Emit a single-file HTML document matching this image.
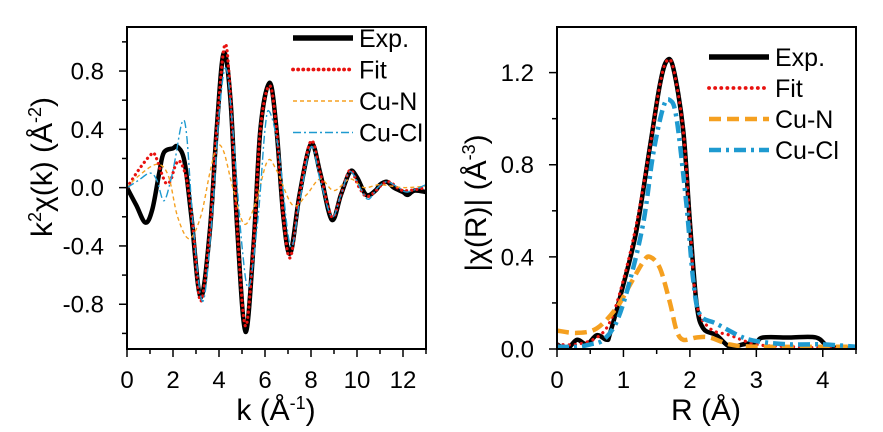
<!DOCTYPE html>
<html><head><meta charset="utf-8"><style>
body{margin:0;background:#fff}
svg{display:block;font-family:"Liberation Sans",Arial,sans-serif}
</style></head><body>
<svg id="c" width="883" height="432"></svg>
<script>
// ---- Left panel data (k-space) ----
const kExpK=[0,0.4,0.8,1.1,1.4,1.6,2.0,2.2,2.5,2.8,3.2,3.6,3.9,4.2,4.5,4.8,5.15,5.5,5.8,6.2,6.5,6.8,7.1,7.5,8.0,8.4,8.9,9.3,9.7,10.0,10.4,10.8,11.0,11.3,11.6,12.0,12.2,12.5,13];
const kExpY=[0,-0.12,-0.24,-0.15,0.1,0.24,0.27,0.28,0.18,-0.2,-0.75,-0.3,0.4,0.92,0.6,-0.3,-0.99,-0.4,0.4,0.72,0.4,-0.2,-0.45,-0.05,0.3,0.1,-0.22,-0.05,0.11,0.07,-0.05,-0.02,0.02,0.04,0,-0.03,-0.05,-0.02,-0.03];
const kFitK=[0,0.5,1.0,1.2,1.5,1.7,1.9,2.1,2.3,2.6,2.85,3.2,3.6,3.9,4.25,4.5,4.8,5.15,5.5,5.8,6.2,6.5,6.8,7.1,7.5,8.0,8.4,8.9,9.3,9.7,10.1,10.5,11.3,12.0,13];
const kFitY=[0,0.12,0.22,0.23,0.1,0.03,0.05,0.15,0.18,0.05,-0.25,-0.78,-0.3,0.4,0.98,0.62,-0.3,-0.95,-0.4,0.4,0.7,0.4,-0.2,-0.48,-0.05,0.32,0.1,-0.2,-0.05,0.12,0.0,-0.06,0.04,-0.02,0];
const kNK=[0,0.5,1.3,1.8,2.2,2.7,3.2,3.6,3.9,4.2,4.6,5.1,5.6,6.1,6.5,7.2,7.8,8.4,9.0,9.7,10.3,11,12,13];
const kNY=[0,0.08,0.16,0.08,-0.2,-0.35,-0.2,0.1,0.28,0.25,0,-0.25,-0.1,0.18,0.12,-0.12,-0.05,0.06,-0.02,0.06,0,0.02,0,0.01];
const kClK=[0,0.5,1.0,1.3,1.6,1.9,2.1,2.4,2.6,2.9,3.3,3.7,4.0,4.3,4.6,5.0,5.3,5.7,6.0,6.2,6.6,7.1,7.5,8.0,8.4,8.9,9.3,9.7,10.2,10.5,10.9,11.3,11.8,12.2,13];
const kClY=[0,0.05,0.1,0.05,-0.09,0.05,0.2,0.45,0.35,-0.3,-0.78,-0.2,0.5,0.82,0.4,-0.4,-0.68,-0.2,0.4,0.52,0.25,-0.4,-0.1,0.28,0.05,-0.2,-0.05,0.11,-0.02,-0.08,0,0.04,0,-0.03,0.02];
const kXTicks=[0,2,4,6,8,10,12];
const kYTicks=[-0.8,-0.4,0.0,0.4,0.8];
// ---- Right panel data (R-space) ----
const rExpR=[0,0.15,0.3,0.45,0.6,0.75,0.8,1.0,1.2,1.4,1.55,1.65,1.75,1.9,2.0,2.1,2.2,2.4,2.6,2.8,3.0,3.1,3.5,3.9,4.1,4.5];
const rExpY=[0.02,0,0.04,0.02,0.06,0.04,0.07,0.28,0.52,0.88,1.15,1.25,1.22,0.95,0.55,0.2,0.09,0.06,0.01,0.02,0.03,0.05,0.05,0.05,0.01,0];
const rFitR=[0,0.3,0.6,0.8,1.0,1.2,1.4,1.55,1.65,1.75,1.9,2.0,2.1,2.3,2.6,3.0,3.5,4.5];
const rFitY=[0.02,0.02,0.05,0.12,0.3,0.55,0.88,1.15,1.25,1.22,0.95,0.55,0.2,0.09,0.06,0.02,0.01,0];
const rNR=[0,0.3,0.6,0.9,1.1,1.3,1.4,1.55,1.7,1.8,1.9,2.1,2.3,2.6,3.0,4.5];
const rNY=[0.08,0.07,0.09,0.18,0.28,0.38,0.40,0.35,0.2,0.08,0.04,0.05,0.05,0.02,0.01,0.01];
const rClR=[0,0.3,0.5,0.7,0.9,1.1,1.3,1.45,1.6,1.7,1.8,1.95,2.05,2.15,2.4,2.8,3.1,3.5,4.0,4.5];
const rClY=[0.01,0.01,0.02,0.04,0.12,0.3,0.55,0.85,1.05,1.08,1.0,0.62,0.3,0.15,0.11,0.05,0.03,0.02,0.02,0.01];
const rXTicks=[0,1,2,3,4];
const rYTicks=[0.0,0.4,0.8,1.2];

const NS='http://www.w3.org/2000/svg';
const svg=document.getElementById('c');
function mk(tag,attrs,parent){const e=document.createElementNS(NS,tag);for(const k in attrs)e.setAttribute(k,attrs[k]);(parent||svg).appendChild(e);return e;}
function smooth(pts){let d='M'+pts[0][0].toFixed(1)+','+pts[0][1].toFixed(1);
 for(let i=0;i<pts.length-1;i++){const p0=pts[Math.max(0,i-1)],p1=pts[i],p2=pts[i+1],p3=pts[Math.min(pts.length-1,i+2)];
  const c1=[p1[0]+(p2[0]-p0[0])/6,p1[1]+(p2[1]-p0[1])/6],c2=[p2[0]-(p3[0]-p1[0])/6,p2[1]-(p3[1]-p1[1])/6];
  d+='C'+c1[0].toFixed(1)+','+c1[1].toFixed(1)+' '+c2[0].toFixed(1)+','+c2[1].toFixed(1)+' '+p2[0].toFixed(1)+','+p2[1].toFixed(1);}
 return d;}

function panel(o){
 const g=mk('g',{});
 
 
 const X=v=>o.x0+(v-o.xmin)/(o.xmax-o.xmin)*(o.x1-o.x0);
 const Y=v=>o.y1-(v-o.ymin)/(o.ymax-o.ymin)*(o.y1-o.y0);
 const clipId='clip'+o.name;
 const cp=mk('clipPath',{id:clipId},g);mk('rect',{x:o.x0,y:o.y0,width:o.x1-o.x0,height:o.y1-o.y0},cp);
 const series=o.series;
 series.forEach(s=>{
  const pts=s.xs.map((x,i)=>[X(x),Y(s.ys[i])]);
  const p=mk('path',{d:smooth(pts),fill:'none',stroke:s.color,'stroke-width':s.w,'stroke-dasharray':s.dash||'','stroke-linecap':s.cap||'butt','clip-path':'url(#'+clipId+')'},g);
  
  
 });
 const fr=mk('rect',{x:o.x0,y:o.y0,width:o.x1-o.x0,height:o.y1-o.y0,fill:'none',stroke:'#000','stroke-width':2},g);
 
 
 for(let v=o.xmin;v<=o.xmax+1e-9;v+=o.xminor){const major=o.xTicks.some(t=>Math.abs(t-v)<1e-9);
  mk('line',{x1:X(v),x2:X(v),y1:o.y1,y2:o.y1+(major?8:5),stroke:'#000','stroke-width':1.5},g);}
 o.xTicks.forEach(v=>{const t=mk('text',{x:X(v),y:o.y1+39,'font-size':24,'text-anchor':'middle'},g);t.textContent=String(v);
  
  });
 for(let v=o.yminorStart;v<=o.ymax+1e-9;v+=o.yminor){const major=o.yTicks.some(t=>Math.abs(t-v)<1e-9);
  mk('line',{x1:o.x0,x2:o.x0-(major?8:5),y1:Y(v),y2:Y(v),stroke:'#000','stroke-width':1.5},g);}
 o.yTicks.forEach(v=>{const t=mk('text',{x:o.x0-23,y:Y(v)+8.5,'font-size':24,'text-anchor':'end'},g);t.textContent=v.toFixed(1);
  
  });
 series.forEach((s,i)=>{const ly=o.legY+i*o.legDy;
  const l=mk('line',{x1:o.legX,x2:o.legX+60,y1:ly,y2:ly,stroke:s.color,'stroke-width':s.lw||s.w,'stroke-dasharray':s.ldash||s.dash||'','stroke-linecap':s.cap||'butt'},g);
  
  
  const t=mk('text',{x:o.legX+66,y:ly+9,'font-size':25},g);t.textContent=s.label;
  
  });
 return {X,Y};
}

panel({name:'k-space-panel',x0:127,x1:426,y0:27,y1:349,xmin:0,xmax:13,ymin:-1.107,ymax:1.102,
 xTicks:kXTicks,xminor:1,yTicks:kYTicks,yminor:0.2,yminorStart:-1.0,legX:293,legY:38,legDy:31.5,
 series:[
  {id:'exp',label:'Exp.',xs:kExpK,ys:kExpY,color:'#000',w:4.5,lw:5.5},
  {id:'fit',label:'Fit',xs:kFitK,ys:kFitY,color:'#e8120f',w:3.2,dash:'0.1 5',cap:'round',lw:3.8},
  {id:'cu-n',label:'Cu-N',xs:kNK,ys:kNY,color:'#f5a020',w:1.4,dash:'4 3'},
  {id:'cu-cl',label:'Cu-Cl',xs:kClK,ys:kClY,color:'#1e9ad0',w:1.4,dash:'8 3 2 3'}
 ]});
panel({name:'r-space-panel',x0:557,x1:856,y0:27,y1:349,xmin:0,xmax:4.5,ymin:0,ymax:1.398,
 xTicks:rXTicks,xminor:0.5,yTicks:rYTicks,yminor:0.2,yminorStart:0,legX:709,legY:57,legDy:31,
 series:[
  {id:'exp',label:'Exp.',xs:rExpR,ys:rExpY,color:'#000',w:4.5,lw:5.5},
  {id:'fit',label:'Fit',xs:rFitR,ys:rFitY,color:'#e8120f',w:3.2,dash:'0.1 6',cap:'round',lw:3.8},
  {id:'cu-n',label:'Cu-N',xs:rNR,ys:rNY,color:'#f5a020',w:4.5,dash:'12 6'},
  {id:'cu-cl',label:'Cu-Cl',xs:rClR,ys:rClY,color:'#1e9ad0',w:4.5,dash:'12 5 3 5'}
 ]});

function title(txt,attrs,name){const t=mk('text',attrs);t.innerHTML=txt;
 
 }
title('k (Å<tspan dy="-11" font-size="18">-1</tspan><tspan dy="11">)</tspan>',{x:276,y:420,'font-size':30,'text-anchor':'middle'},'x-axis-title-left');
title('R (Å)',{x:706,y:420,'font-size':30,'text-anchor':'middle'},'x-axis-title-right');
title('k<tspan dy="-11" font-size="18">2</tspan><tspan dy="11">χ(k) (Å</tspan><tspan dy="-11" font-size="18">-2</tspan><tspan dy="11">)</tspan>',{x:0,y:0,'font-size':30,'text-anchor':'middle',transform:'translate(52,167) rotate(-90)'},'y-axis-title-left');
title('|χ(R)| (Å<tspan dy="-11" font-size="18">-3</tspan><tspan dy="11">)</tspan>',{x:0,y:0,'font-size':30,'text-anchor':'middle',transform:'translate(486,203) rotate(-90)'},'y-axis-title-right');
</script>
</body></html>
